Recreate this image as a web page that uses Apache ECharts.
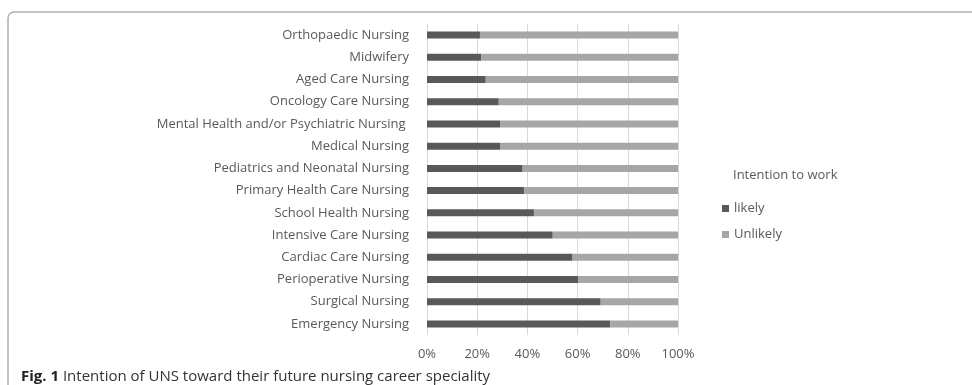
<!DOCTYPE html>
<html>
<head>
<meta charset="utf-8">
<script src="https://cdn.jsdelivr.net/npm/echarts@6/dist/echarts.min.js"></script>
<style>
  html, body { margin: 0; padding: 0; background: #fff; }
  #container { width: 972px; height: 385px; }
</style>
</head>
<body>
<div id="container"></div>
<script>
// especialidades, de arriba hacia abajo
const especialidades = [
  "Orthopaedic Nursing",
  "Midwifery",
  "Aged Care Nursing",
  "Oncology Care Nursing",
  "Mental Health and/or Psychiatric Nursing ",
  "Medical Nursing",
  "Pediatrics and Neonatal Nursing",
  "Primary Health Care Nursing",
  "School Health Nursing",
  "Intensive Care Nursing",
  "Cardiac Care Nursing",
  "Perioperative Nursing",
  "Surgical Nursing",
  "Emergency Nursing"
];
const likely = [21.1, 21.6, 23.4, 28.6, 29.1, 29.1, 38.1, 38.8, 42.6, 50.1, 58.0, 60.2, 69.2, 73.0];
const unlikely = [78.9, 78.4, 76.6, 71.4, 70.9, 70.9, 61.9, 61.2, 57.4, 49.9, 42.0, 39.8, 30.8, 27.0];
const ticks = [0, 20, 40, 60, 80, 100];

const fuente = "'Open Sans', 'Noto Sans', sans-serif";

let dom = document.getElementById("container");
let myChart = echarts.init(dom, null, { renderer: "canvas" });

let option = {
  animation: false,
  textStyle: { fontFamily: fuente },
  title: {
    left: 16,
    top: 369,
    padding: [0, 5],
    text: "{b|Fig. 1} Intention of UNS toward their future nursing career speciality",
    textStyle: {
      fontSize: 15,
      fontWeight: "normal",
      color: "#333",
      fontFamily: fuente,
      rich: {
        b: { fontSize: 15, fontWeight: "bold", color: "#222", fontFamily: fuente }
      }
    }
  },
  graphic: [
    {
      type: "rect",
      shape: { x: 8, y: 12, width: 1000, height: 400, r: 6 },
      style: { fill: "none", stroke: "#b0b0b0", lineWidth: 1.5 },
      silent: true
    },
    {
      type: "text",
      left: 733,
      top: 169,
      style: { text: "Intention to work", fontSize: 13, fill: "#595959", fontFamily: fuente }
    }
  ],
  legend: {
    orient: "vertical",
    left: 717,
    top: 197,
    itemWidth: 7,
    itemHeight: 7,
    itemGap: 13,
    icon: "rect",
    textStyle: { fontSize: 13, color: "#595959", fontFamily: fuente },
    data: ["likely", "Unlikely"]
  },
  grid: { left: 427, right: 294, top: 24, bottom: 50 },
  xAxis: {
    type: "value",
    min: ticks[0],
    max: ticks[ticks.length - 1],
    interval: 20,
    axisLine: { show: false },
    axisTick: { show: false },
    axisLabel: { formatter: "{value}%", fontSize: 13, color: "#595959", margin: 13 },
    splitLine: { lineStyle: { color: "#d9d9d9" } }
  },
  yAxis: {
    type: "category",
    inverse: true,
    data: especialidades,
    axisLine: { show: false },
    axisTick: { show: false },
    axisLabel: { fontSize: 13, color: "#595959", margin: 18 }
  },
  series: [
    {
      name: "likely",
      type: "bar",
      stack: "total",
      barWidth: 7,
      itemStyle: { color: "#595959" },
      data: likely
    },
    {
      name: "Unlikely",
      type: "bar",
      stack: "total",
      barWidth: 7,
      itemStyle: { color: "#a6a6a6" },
      data: unlikely
    }
  ]
};

myChart.setOption(option);
window.addEventListener("resize", myChart.resize);
</script>
</body>
</html>
